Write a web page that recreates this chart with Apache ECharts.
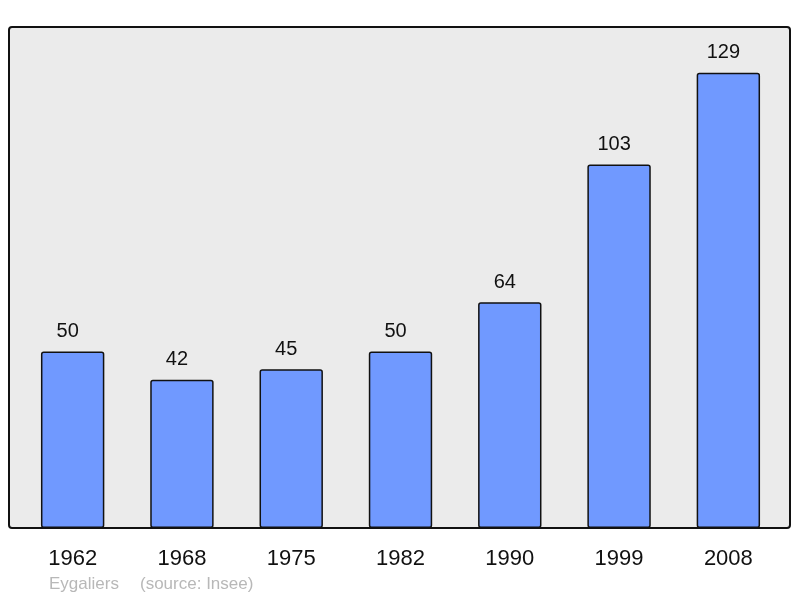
<!DOCTYPE html>
<html>
<head>
<meta charset="utf-8">
<script src="https://cdn.jsdelivr.net/npm/echarts@6/dist/echarts.min.js"></script>
<style>
  html, body { margin: 0; padding: 0; background: #ffffff; }
  #chart { width: 800px; height: 598px; }
</style>
</head>
<body>
<div id="chart"></div>
<script>
const years = ['1962', '1968', '1975', '1982', '1990', '1999', '2008']
const population = [50, 42, 45, 50, 64, 103, 129]
const commune = 'Eygaliers'
const source = '(source: Insee)'

const chart = echarts.init(document.getElementById('chart'), null, { renderer: 'canvas' })

chart.setOption({
  backgroundColor: '#ffffff',
  animation: false,
  textStyle: { fontFamily: 'Liberation Sans, Arial, sans-serif' },
  grid: { left: 18, right: 17, top: 27, bottom: 70 },
  graphic: [
    {
      type: 'rect',
      z: -10,
      shape: { x: 9, y: 27, width: 781, height: 501, r: 3 },
      style: { fill: '#ebebeb', stroke: '#111111', lineWidth: 2 },
    },
    {
      type: 'text',
      left: 49, top: 576,
      style: { text: commune, fill: '#b8b8b8', fontSize: 17, fontFamily: 'Liberation Sans, Arial, sans-serif' },
    },
    {
      type: 'text',
      left: 140, top: 576,
      style: { text: source, fill: '#b8b8b8', fontSize: 17, fontFamily: 'Liberation Sans, Arial, sans-serif' },
    },
  ],
  xAxis: {
    type: 'category',
    data: years,
    axisLine: { show: false },
    axisTick: { show: false },
    axisLabel: { color: '#111111', fontSize: 22, margin: 20 },
  },
  yAxis: {
    type: 'value',
    min: 0,
    max: 142,
    show: false,
    splitLine: { show: false },
  },
  series: [{
    type: 'bar',
    data: population,
    barWidth: '58%',
    itemStyle: { color: '#7099ff', borderColor: '#111111', borderWidth: 1.5, borderRadius: 2 },
    label: { show: true, position: 'top', distance: 10, offset: [-5, 0], color: '#111111', fontSize: 20 },
  }],
})
</script>
</body>
</html>
